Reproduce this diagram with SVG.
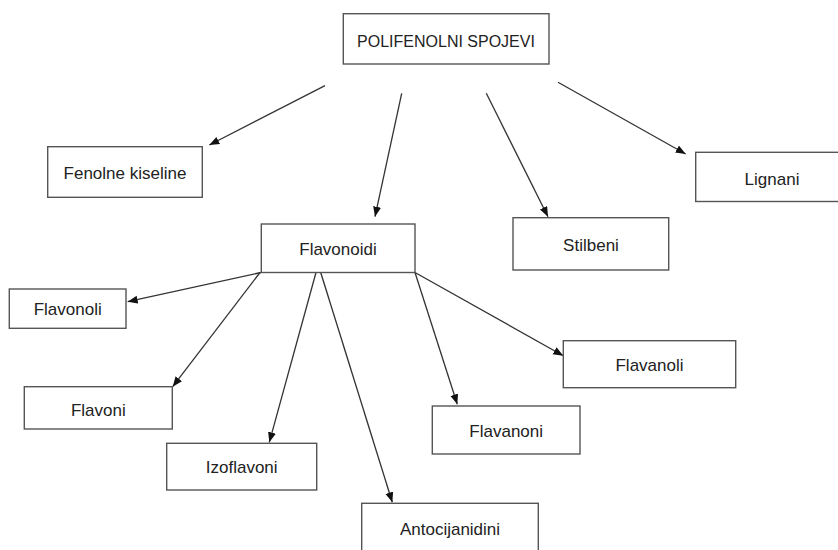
<svg xmlns="http://www.w3.org/2000/svg" width="838" height="550" viewBox="0 0 838 550">
<style>
.box{fill:#fff;stroke:#555;stroke-width:1.4}
.lbl{font-family:"Liberation Sans",Arial,sans-serif;font-size:17px;fill:#222;text-anchor:middle}
.edge{stroke:#333;stroke-width:1.3;fill:none;marker-end:url(#ah)}
</style>
<defs>
<marker id="ah" markerUnits="userSpaceOnUse" markerWidth="11" markerHeight="9" refX="10" refY="4" orient="auto">
<path d="M0,0 L10,4 L0,8 z" fill="#111"/>
</marker>
</defs>
<rect width="838" height="550" fill="#fff"/>
<g id="connectors">
<line class="edge" x1="325" y1="85.7" x2="209.3" y2="145"/>
<line class="edge" x1="401.7" y1="93.3" x2="375" y2="216.7"/>
<line class="edge" x1="486.3" y1="93.3" x2="548" y2="216.7"/>
<line class="edge" x1="558" y1="82.3" x2="685.7" y2="154"/>
<line class="edge" x1="261" y1="272.5" x2="127.7" y2="301.7"/>
<line class="edge" x1="260" y1="272.5" x2="172.7" y2="386.7"/>
<line class="edge" x1="316" y1="272.5" x2="269.3" y2="442.3"/>
<line class="edge" x1="320.7" y1="272.5" x2="392.3" y2="502.3"/>
<line class="edge" x1="415" y1="272.5" x2="457.3" y2="404.3"/>
<line class="edge" x1="415" y1="272.5" x2="563.3" y2="355.7"/>
</g>
<g id="polifenolni"><rect class="box" x="343.3" y="13.7" width="205.7" height="50.3"/><text class="lbl" x="446" y="47" style="font-size:16px">POLIFENOLNI SPOJEVI</text></g>
<g id="fenolne"><rect class="box" x="47.7" y="146.7" width="154.6" height="50.6"/><text class="lbl" x="125" y="179">Fenolne kiseline</text></g>
<g id="flavonoidi"><rect class="box" x="261.3" y="224" width="153.7" height="48.5"/><text class="lbl" x="338" y="255">Flavonoidi</text></g>
<g id="stilbeni"><rect class="box" x="513" y="217.7" width="155.7" height="52.3"/><text class="lbl" x="591" y="250.5">Stilbeni</text></g>
<g id="lignani"><rect class="box" x="695.7" y="152.3" width="160" height="49.2"/><text class="lbl" x="772" y="184.5">Lignani</text></g>
<g id="flavonoli"><rect class="box" x="9.3" y="289" width="116.7" height="39.3"/><text class="lbl" x="67.7" y="314.5">Flavonoli</text></g>
<g id="flavoni"><rect class="box" x="24.3" y="386.7" width="148" height="42.3"/><text class="lbl" x="98.3" y="415.5">Flavoni</text></g>
<g id="izoflavoni"><rect class="box" x="166.7" y="443.3" width="150" height="46.7"/><text class="lbl" x="241.7" y="473.3">Izoflavoni</text></g>
<g id="antocijanidini"><rect class="box" x="361.7" y="503.3" width="176.6" height="60"/><text class="lbl" x="450" y="535">Antocijanidini</text></g>
<g id="flavanoli"><rect class="box" x="563.3" y="340.7" width="172.4" height="47"/><text class="lbl" x="649.5" y="371">Flavanoli</text></g>
<g id="flavanoni"><rect class="box" x="432.3" y="406" width="147.7" height="48"/><text class="lbl" x="506.2" y="436.7">Flavanoni</text></g>
</svg>
